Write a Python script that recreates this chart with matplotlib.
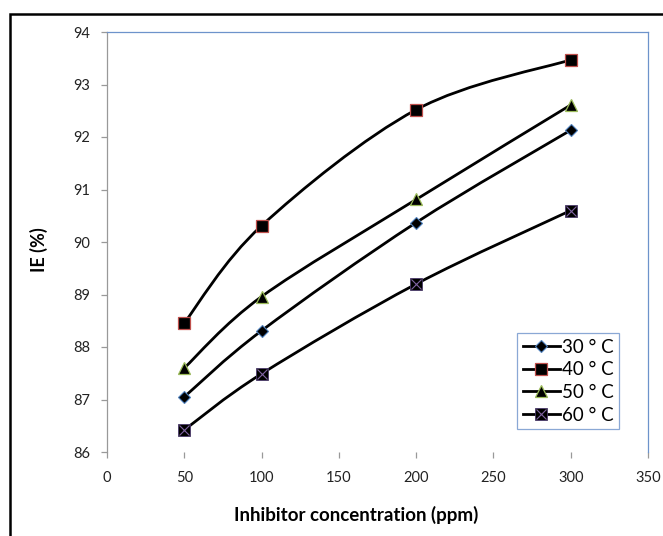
import matplotlib.pyplot as plt
from matplotlib.lines import Line2D
from matplotlib.path import Path
from matplotlib.patches import PathPatch, Rectangle
from matplotlib.legend_handler import HandlerTuple
import numpy as np

# ---------------------------------------------------------
# Data
# ---------------------------------------------------------
conc = [50, 100, 200, 300]

ie_30 = [87.05, 88.31, 90.37, 92.13]
ie_40 = [88.46, 90.31, 92.52, 93.47]
ie_50 = [87.60, 88.96, 90.81, 92.61]
ie_60 = [86.42, 87.49, 89.20, 90.60]

labels = ["30 ° C", "40 ° C", "50 ° C", "60 ° C"]

plt.rcParams['font.family'] = ['Lato', 'DejaVu Sans']


# ---------------------------------------------------------
# Excel-like smoothed line (Catmull-Rom as cubic Bezier)
# ---------------------------------------------------------
def smooth_path(x, y):
    pts = np.column_stack([x, y]).astype(float)
    n = len(pts)
    verts = [pts[0]]
    codes = [Path.MOVETO]
    for i in range(n - 1):
        p0 = pts[max(i - 1, 0)]
        p1 = pts[i]
        p2 = pts[i + 1]
        p3 = pts[min(i + 2, n - 1)]
        c1 = p1 + (p2 - p0) / 6.0
        c2 = p2 - (p3 - p1) / 6.0
        verts += [c1, c2, p2]
        codes += [Path.CURVE4] * 3
    return Path(verts, codes)


fig = plt.figure(figsize=(6.63, 5.36), dpi=100)
ax = fig.add_axes([107 / 663, 1 - 452 / 536, 541 / 663, 420 / 536])

styles = [
    dict(marker='D', ms=6.5, mfc='black', mec='#4F81BD', mew=0.8),
    dict(marker='s', ms=9, mfc='black', mec='#C0504D', mew=0.9),
    dict(marker='^', ms=9, mfc='black', mec='#9BBB59', mew=0.9),
    dict(marker='s', ms=9, mfc='black', mec='#4B3A6B', mew=0.6),
]

handles = []
for y, st in zip([ie_30, ie_40, ie_50, ie_60], styles):
    ax.add_patch(PathPatch(smooth_path(conc, y), fill=False, edgecolor='black',
                           lw=2.0, capstyle='round', zorder=2))
    ax.plot(conc, y, linestyle='none', zorder=3, **st)
    h = Line2D([], [], color='black', lw=2.0, **st)
    handles.append(h)

# purple cross inside the 60 C squares
ax.plot(conc, ie_60, linestyle='none', marker='x', ms=7.5, mec='#8064A2', mew=0.8, zorder=4)
cross = Line2D([], [], linestyle='none', marker='x', ms=7.5, mec='#8064A2', mew=0.8)
handles[3] = (handles[3], cross)

# ---------------------------------------------------------
# Axes styling
# ---------------------------------------------------------
ax.set_xlim(0, 350)
ax.set_ylim(86, 94)
ax.set_xticks(range(0, 351, 50))
ax.set_yticks(range(86, 95))

ax.spines['bottom'].set_visible(False)
ax.spines['left'].set_color('#999999')
ax.spines['top'].set_color('#6D93CB')
ax.spines['right'].set_color('#6D93CB')
for s in ax.spines.values():
    s.set_linewidth(0.9)

ax.tick_params(axis='both', colors='#999999', labelcolor='#222222',
               labelsize=10.5, direction='out', length=4, width=0.9)
ax.tick_params(axis='x', pad=10)
ax.tick_params(axis='y', pad=8)

ax.set_xlabel("Inhibitor concentration (ppm)", fontsize=13.5, fontweight='bold')
ax.set_ylabel("IE (%)", fontsize=13, fontweight='bold')
ax.xaxis.set_label_coords((356 - 107) / 541, (452 - 506) / 420)
ax.yaxis.set_label_coords((48 - 107) / 541, (452 - 250) / 420)

leg = ax.legend(handles, labels, loc='upper left', bbox_to_anchor=(0.758, 0.283),
                fontsize=13.5, fancybox=False, frameon=True, borderpad=0.3,
                handlelength=2.0, handletextpad=0.1, labelspacing=0.3,
                borderaxespad=0, handler_map={tuple: HandlerTuple(ndivide=1)})
leg.get_frame().set_edgecolor('#6D93CB')
leg.get_frame().set_linewidth(0.9)

# outer chart frame
fig.patches.append(Rectangle((10 / 663, -0.05), 1.1, 1 - 14 / 536 + 0.05,
                             transform=fig.transFigure, fill=False,
                             edgecolor='black', lw=1.8))

fig.savefig("out.png", dpi=100)
